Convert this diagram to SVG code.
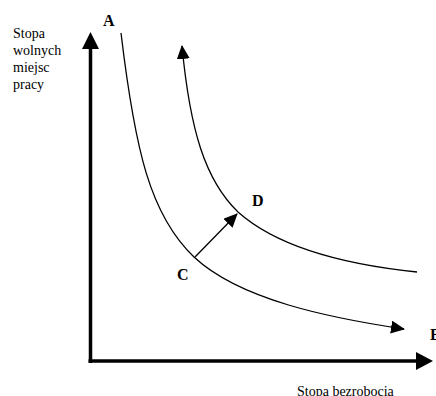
<svg xmlns="http://www.w3.org/2000/svg" width="436" height="396" viewBox="0 0 436 396">
<style>
text{font-family:"Liberation Serif","Times New Roman",serif;fill:#000}
.lbl{font-size:14px}
.pt{font-size:16px;font-weight:bold}
.curve{fill:none;stroke:#000;stroke-width:1.3}
.axis{fill:none;stroke:#000;stroke-width:3.5}
</style>
<defs>
<marker id="ah" markerUnits="userSpaceOnUse" markerWidth="16" markerHeight="14" refX="13" refY="6.5" orient="auto">
<path d="M0,0 L14,6.5 L0,13 Z" fill="#000"/>
</marker>
</defs>
<rect width="436" height="396" fill="#fff"/>
<g id="axes">
<line class="axis" x1="90.5" y1="363" x2="90.5" y2="46"/>
<polygon points="90.5,32 82,49 99,49" fill="#000"/>
<line class="axis" x1="88.5" y1="361" x2="420" y2="361"/>
<polygon points="433,361 416,352 416,370" fill="#000"/>
</g>
<g id="connectors">
<path id="curveA" class="curve" d="M121,33 C135,150 150,215 194,257 C240,300 330,318 404,329" marker-end="url(#ah)"/>
<path id="curveB" class="curve" d="M417,272 C340,264 275,245 238,212 C205,180 190,130 182,46" marker-end="url(#ah)"/>
<line id="shift" x1="195" y1="257" x2="237" y2="214" stroke="#000" stroke-width="1.3" marker-end="url(#ah)"/>
</g>
<g id="label-y">
<text class="lbl" x="13" y="38">Stopa</text>
<text class="lbl" x="13" y="55">wolnych</text>
<text class="lbl" x="13" y="72">miejsc</text>
<text class="lbl" x="13" y="89">pracy</text>
</g>
<g id="label-x">
<text class="lbl" x="297" y="396">Stopa bezrobocia</text>
</g>
<g id="node-A"><text class="pt" x="103" y="26">A</text></g>
<g id="node-B"><text class="pt" x="430" y="340">B</text></g>
<g id="node-C"><text class="pt" x="177" y="280">C</text></g>
<g id="node-D"><text class="pt" x="252" y="206">D</text></g>
</svg>
